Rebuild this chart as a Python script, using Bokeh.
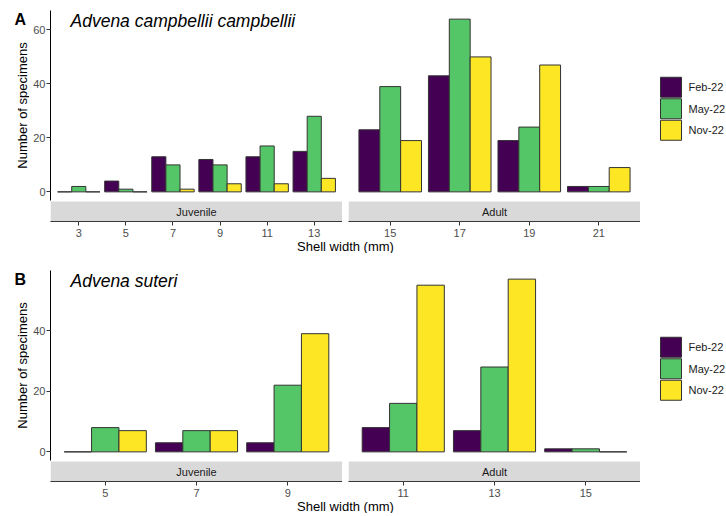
import math
from bokeh.plotting import figure
from bokeh.models import (ColumnDataSource, Range1d, FactorRange, SingleIntervalTicker,
                          BoxAnnotation, Label)
from bokeh.core.properties import value
from bokeh.layouts import column, row
from bokeh.transform import dodge
from bokeh.embed import file_html
from bokeh.resources import INLINE

# ---------------- data ----------------
months = ["Feb-22", "May-22", "Nov-22"]
month_colors = ["#440154", "#55C667", "#FDE725"]

a_juv_sizes = ["3", "5", "7", "9", "11", "13"]
a_juv_feb = [0, 4, 13, 12, 13, 15]
a_juv_may = [2, 1, 10, 10, 17, 28]
a_juv_nov = [0, 0, 1, 3, 3, 5]

a_adult_sizes = ["15", "17", "19", "21"]
a_adult_feb = [23, 43, 19, 2]
a_adult_may = [39, 64, 24, 2]
a_adult_nov = [19, 50, 47, 9]

b_juv_sizes = ["5", "7", "9"]
b_juv_feb = [0, 3, 3]
b_juv_may = [8, 7, 22]
b_juv_nov = [7, 7, 39]

b_adult_sizes = ["11", "13", "15"]
b_adult_feb = [8, 7, 1]
b_adult_may = [16, 28, 1]
b_adult_nov = [55, 57, 0]

stages = ["Juvenile", "Adult"]
x_title = "Shell width (mm)"
y_title = "Number of specimens"

FONT = "Liberation Sans"
FW = 292      # facet frame width
LAB_W = 29    # width of the left label column
YAX_W = 21    # room for the y tick labels
LEG_W = 86    # width of the legend column
KEY_PITCH = 21.5


def style_fig(p):
    p.outline_line_color = None
    p.grid.visible = False
    p.background_fill_color = "white"
    p.border_fill_color = "white"


def facet(sizes, feb, may, nov, ymax, stage, frame_h, top_border, left=False):
    lo, hi = -0.05 * ymax, 1.05 * ymax
    panel_px = frame_h - 21
    per = (hi - lo) / panel_px
    y0 = lo - 21 * per
    strip_top = lo - 1 * per
    p = figure(frame_width=FW, frame_height=frame_h,
               x_range=FactorRange(factors=sizes, range_padding=0.1,
                                   range_padding_units="absolute"),
               y_range=Range1d(y0, hi),
               output_backend="svg", toolbar_location=None, tools="",
               y_axis_location="left" if left else None,
               min_border=0, min_border_top=top_border,
               min_border_left=YAX_W if left else 6, min_border_right=0)
    style_fig(p)

    src = ColumnDataSource(dict(size=sizes, feb=feb, may=may, nov=nov))
    for key, off, col in zip(["feb", "may", "nov"], [-0.3, 0.0, 0.3], month_colors):
        p.vbar(x=dodge("size", off, range=p.x_range), top=key, bottom=0, width=0.3,
               source=src, fill_color=col, line_color="#333333", line_width=1)

    # facet strip
    p.add_layout(BoxAnnotation(bottom=y0, top=strip_top, fill_color="#d9d9d9",
                               fill_alpha=1, line_color=None))
    p.add_layout(Label(x=len(sizes) / 2, y=(y0 + strip_top) / 2, text=stage,
                       text_align="center", text_baseline="middle",
                       text_font=FONT, text_font_size="11px", text_color="#1a1a1a"))

    xa = p.xaxis[0]
    xa.axis_line_color = "black"
    xa.axis_line_width = 1
    xa.major_tick_line_color = "#333333"
    xa.major_tick_out = 4
    xa.major_tick_in = 0
    xa.minor_tick_line_color = None
    xa.major_label_standoff = 3
    xa.major_label_text_font = FONT
    xa.major_label_text_font_size = "11px"
    xa.major_label_text_color = "#4d4d4d"

    if left:
        ya = p.yaxis[0]
        ya.bounds = (lo, hi)
        ya.ticker = SingleIntervalTicker(interval=20, num_minor_ticks=0)
        ya.axis_line_color = "black"
        ya.axis_line_width = 1
        ya.major_tick_line_color = "#333333"
        ya.major_tick_out = 4
        ya.major_tick_in = 0
        ya.minor_tick_line_color = None
        ya.major_label_standoff = 1
        ya.major_label_text_font = FONT
        ya.major_label_text_font_size = "11px"
        ya.major_label_text_color = "#4d4d4d"
    return p, (lo, hi)


def label_fig(y_range, lohi, frame_h, top_border, tag):
    lo, hi = lohi
    p = figure(frame_width=LAB_W, frame_height=frame_h, x_range=Range1d(0, 1),
               y_range=y_range, output_backend="svg", toolbar_location=None,
               tools="", x_axis_location=None, y_axis_location=None,
               min_border=0, min_border_top=top_border)
    style_fig(p)
    p.add_layout(Label(x=14, x_units="screen", y=hi, text=tag, text_align="left",
                       text_baseline="top", text_font=FONT, text_font_size="16px",
                       text_font_style="bold", text_color="black"))
    p.add_layout(Label(x=21.5, x_units="screen", y=(lo + hi) / 2, text=y_title,
                       angle=math.pi / 2, text_align="center", text_baseline="middle",
                       text_font=FONT, text_font_size="13px", text_color="black"))
    return p


def add_species(p, lohi, species):
    p.add_layout(Label(x=20, x_units="screen", y=lohi[1], text=species, text_align="left",
                       text_baseline="top", text_font=FONT, text_font_size="17.5px",
                       text_font_style="italic", text_color="black"))


def legend_fig(frame_h, top_border, key_off):
    # pixel-like coordinates inside the legend column
    p = figure(frame_width=LEG_W, frame_height=frame_h, x_range=Range1d(0, LEG_W),
               y_range=Range1d(0, frame_h),
               output_backend="svg", toolbar_location=None,
               tools="", x_axis_location=None, y_axis_location=None,
               min_border=0, min_border_top=top_border)
    style_fig(p)
    key_y = [frame_h - key_off - KEY_PITCH * (i + 0.5) for i in range(len(months))]
    src = ColumnDataSource(dict(month=months, color=month_colors, y=key_y))
    p.rect(x=30.5, y="y", width=21, height=20, width_units="screen",
           height_units="screen", fill_color="color", line_color="#333333",
           line_width=1, source=src)
    p.text(x=48, y="y", text="month", source=src, text_baseline="middle",
           text_align="left", text_font=value(FONT), text_font_size="11px",
           text_color="#1a1a1a")
    return p


def xtitle_fig(h):
    t = figure(frame_width=2 * FW + 6, frame_height=h, x_range=Range1d(0, 1),
               y_range=Range1d(0, 1), output_backend="svg", toolbar_location=None,
               tools="", x_axis_location=None, y_axis_location=None,
               min_border=0, min_border_left=LAB_W + YAX_W, min_border_right=LEG_W)
    style_fig(t)
    t.add_layout(Label(x=0.5, y=0.5, text=x_title, text_align="center",
                       text_baseline="middle", text_font=FONT,
                       text_font_size="13px", text_color="black"))
    return t


A_H, A_TOP = 211, 10
B_H, B_TOP = 211, 17
LEG_OFF = 66

a_max = max(a_juv_feb + a_juv_may + a_juv_nov + a_adult_feb + a_adult_may + a_adult_nov)
b_max = max(b_juv_feb + b_juv_may + b_juv_nov + b_adult_feb + b_adult_may + b_adult_nov)

a1, a_lohi = facet(a_juv_sizes, a_juv_feb, a_juv_may, a_juv_nov, a_max, stages[0],
                   A_H, A_TOP, left=True)
add_species(a1, a_lohi, "Advena campbellii campbellii")
a2, _ = facet(a_adult_sizes, a_adult_feb, a_adult_may, a_adult_nov, a_max, stages[1],
              A_H, A_TOP)
a0 = label_fig(a1.y_range, a_lohi, A_H, A_TOP, "A")
a3 = legend_fig(A_H, A_TOP, LEG_OFF)

b1, b_lohi = facet(b_juv_sizes, b_juv_feb, b_juv_may, b_juv_nov, b_max, stages[0],
                   B_H, B_TOP, left=True)
add_species(b1, b_lohi, "Advena suteri")
b2, _ = facet(b_adult_sizes, b_adult_feb, b_adult_may, b_adult_nov, b_max, stages[1],
              B_H, B_TOP)
b0 = label_fig(b1.y_range, b_lohi, B_H, B_TOP, "B")
b3 = legend_fig(B_H, B_TOP, LEG_OFF)

layout = column(row(a0, a1, a2, a3), xtitle_fig(14),
                row(b0, b1, b2, b3), xtitle_fig(14))

open("out.html", "w").write(file_html(layout, INLINE))
